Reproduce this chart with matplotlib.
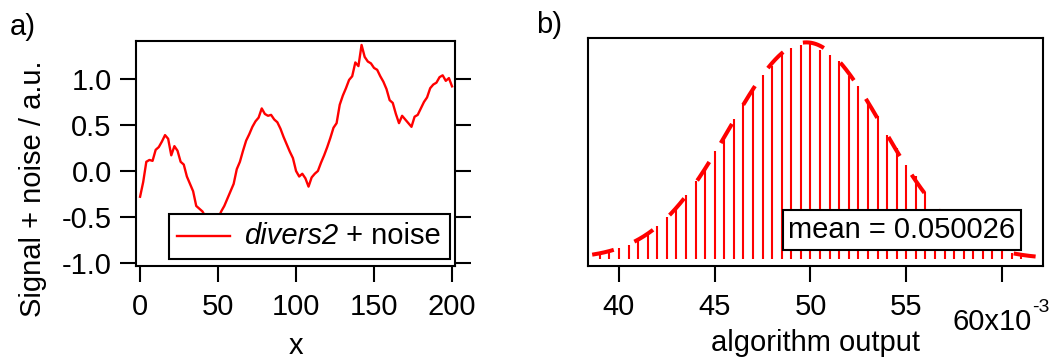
import numpy as np
import matplotlib
matplotlib.use('Agg')
import matplotlib.pyplot as plt
from matplotlib.ticker import FormatStrFormatter
from matplotlib.offsetbox import TextArea, HPacker, DrawingArea, AnchoredOffsetbox
from matplotlib.lines import Line2D

plt.rcParams['font.family'] = 'Liberation Sans'
plt.rcParams['axes.unicode_minus'] = False

FS = 21

# panel a: noisy signal, every 2 units of x
sig_x = list(range(0, 201, 2))
sig_y = [-0.28, -0.12, 0.10, 0.12, 0.11, 0.23, 0.26, 0.32, 0.39, 0.35,
         0.17, 0.27, 0.22, 0.10, 0.07, -0.06, -0.14, -0.22, -0.38, -0.41,
         -0.44, -0.50, -0.56, -0.59, -0.57, -0.52, -0.44, -0.38, -0.30, -0.22,
         -0.14, 0.02, 0.10, 0.22, 0.33, 0.40, 0.48, 0.54, 0.58, 0.68,
         0.62, 0.60, 0.61, 0.56, 0.53, 0.46, 0.37, 0.29, 0.21, 0.14,
         0.00, -0.06, -0.03, -0.08, -0.17, -0.07, -0.03, 0.00, 0.09, 0.17,
         0.26, 0.36, 0.47, 0.52, 0.72, 0.82, 0.90, 0.99, 1.03, 1.18,
         1.14, 1.37, 1.24, 1.19, 1.17, 1.12, 1.10, 1.03, 0.97, 0.89,
         0.77, 0.74, 0.62, 0.52, 0.60, 0.56, 0.52, 0.48, 0.59, 0.61,
         0.68, 0.75, 0.80, 0.90, 0.94, 0.96, 1.02, 1.04, 0.98, 1.01,
         0.92]

# panel b: histogram of algorithm output (bin centres in units of 1e-3)
bin_x = [39.0, 39.5, 40.0, 40.5, 41.0, 41.5, 42.0, 42.5, 43.0, 43.5,
         44.0, 44.5, 45.0, 45.5, 46.0, 46.5, 47.0, 47.5, 48.0, 48.5,
         49.0, 49.5, 50.0, 50.5, 51.0, 51.5, 52.0, 52.5, 53.0, 53.5,
         54.0, 54.5, 55.0, 55.5, 56.0, 56.5, 57.0, 57.5, 58.0, 58.5,
         59.0, 59.5, 60.0, 60.5, 61.0]
counts = [4, 7, 11, 14, 20, 26, 33, 42, 51, 64,
          78, 91, 108, 119, 140, 156, 172, 184, 193, 205,
          211, 214, 216, 209, 204, 198, 183, 173, 159, 143,
          124, 111, 94, 83, 67, 50, 41, 33, 26, 20,
          15, 11, 8, 6, 4]
mean_text = 'mean = 0.050026'

fig = plt.figure(figsize=(10.52, 3.6), dpi=100)
ax1 = fig.add_axes([0.1293, 0.2611, 0.3032, 0.625])
ax2 = fig.add_axes([0.5589, 0.2611, 0.4325, 0.6333])

# --- a) ---
ax1.plot(sig_x, sig_y, color='red', lw=1.7)
ax1.set_xlim(-2.6, 201.9)
ax1.set_ylim(-1.033, 1.413)
ax1.set_xticks([0, 50, 100, 150, 200])
ax1.set_yticks([-1.0, -0.5, 0.0, 0.5, 1.0])
ax1.yaxis.set_major_formatter(FormatStrFormatter('%.1f'))
ax1.tick_params(axis='both', direction='out', length=11.5, width=1.5, labelsize=FS)
ax1.tick_params(axis='y', right=True, pad=6)
ax1.tick_params(axis='x', pad=8)
ax1.set_xlabel('x', fontsize=FS, labelpad=8)
ax1.set_ylabel('Signal + noise / a.u.', fontsize=FS)
ax1.yaxis.set_label_coords(-0.279, 0.342)
for s in ax1.spines.values():
    s.set_linewidth(1.5)

# legend with italic "divers2" followed by upright " + noise"
da = DrawingArea(38, 14, 0, 0)
da.add_artist(Line2D([0, 38], [7, 7], color='red', lw=1.7))
t1 = TextArea('divers2', textprops=dict(fontsize=FS, fontstyle='italic'))
t2 = TextArea(' + noise', textprops=dict(fontsize=FS))
txt = HPacker(children=[t1, t2], sep=0, pad=0, align='baseline')
row = HPacker(children=[da, txt], sep=10, pad=0, align='center')
leg = AnchoredOffsetbox(loc='lower right', child=row, pad=0.3, borderpad=0,
                        bbox_to_anchor=(0.984, 0.031), bbox_transform=ax1.transAxes,
                        frameon=True, prop=dict(size=FS))
leg.patch.set_boxstyle('square,pad=0')
leg.patch.set_linewidth(1.5)
leg.patch.set_edgecolor('black')
leg.set_zorder(5)
ax1.add_artist(leg)

# --- b) ---
ax2.vlines(bin_x, 0, counts, colors='red', lw=1.5, zorder=2)

# gaussian fit of the histogram (log-parabola, weighted)
bx = np.array(bin_x)
bc = np.array(counts, dtype=float)
c2, c1, c0 = np.polyfit(bx, np.log(bc), 2, w=np.sqrt(bc))
sigma = np.sqrt(-1 / (2 * c2))
mu = c1 * sigma ** 2
amp = np.exp(c0 + mu ** 2 / (2 * sigma ** 2))
fx = np.linspace(38.6, 62.0, 400)
fy = amp * np.exp(-(fx - mu) ** 2 / (2 * sigma ** 2))
ax2.plot(fx, fy, color='red', lw=2.9, linestyle=(0, (5.5, 5.5)), zorder=3)

ax2.set_xlim(38.38, 62.14)
ax2.set_ylim(-7, 221)
ax2.set_yticks([])
ax2.set_xticks([40, 45, 50, 55, 60])
ax2.set_xticklabels(['40', '45', '50', '55', ''])
ax2.tick_params(axis='x', direction='out', length=11.5, width=1.5, labelsize=FS, pad=8)
ax2.set_xlabel('algorithm output', fontsize=FS, labelpad=6)
for s in ax2.spines.values():
    s.set_linewidth(1.5)
ax2.text(0.690, 0.158, mean_text, transform=ax2.transAxes, ha='center', va='center',
         fontsize=FS, zorder=5,
         bbox=dict(boxstyle='square,pad=0.2', fc='white', ec='black', lw=1.5))

# exponent label on the last tick, Igor style
fig.text(953 / 1052, 1 - 330 / 360, '60x10', fontsize=FS, va='baseline', ha='left')
fig.text(1032 / 1052, 1 - 312 / 360, '-3', fontsize=14, va='baseline', ha='left')

fig.text(0.0095, 0.903, 'a)', fontsize=FS, va='baseline')
fig.text(0.510, 0.908, 'b)', fontsize=FS, va='baseline')

fig.savefig('out.png', dpi=100)
